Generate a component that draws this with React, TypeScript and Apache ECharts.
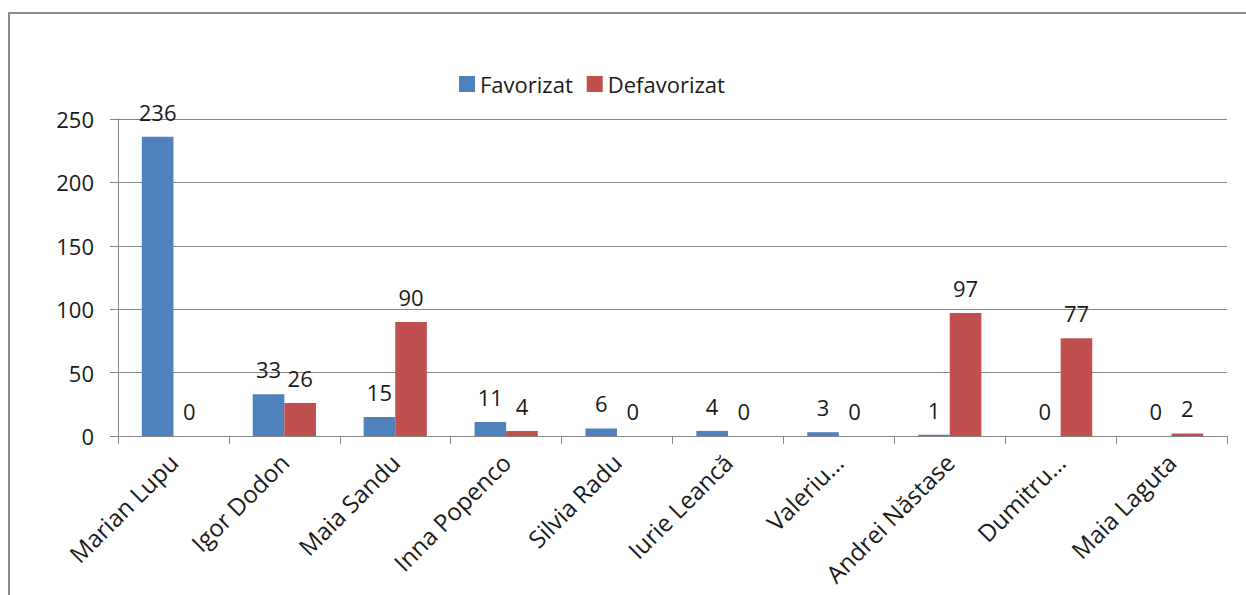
import React, { useEffect, useRef } from "react";
import * as echarts from "echarts";

const categories = [
  "Marian Lupu",
  "Igor Dodon",
  "Maia Sandu",
  "Inna Popenco",
  "Silvia Radu",
  "Iurie Leancă",
  "Valeriu…",
  "Andrei Năstase",
  "Dumitru…",
  "Maia Laguta",
];
const favorizat = [236, 33, 15, 11, 6, 4, 3, 1, 0, 0];
const defavorizat = [0, 26, 90, 4, 0, 0, 0, 97, 77, 2];
const seriesNames = ["Favorizat", "Defavorizat"];

const FONT = "'Open Sans', 'Noto Sans', sans-serif";
const TEXT = "#1a1a1a";
const AXIS = "#868686";

export default function App() {
  const ref = useRef<HTMLDivElement>(null);
  useEffect(() => {
    if (!ref.current) return;
    const chart = echarts.init(ref.current, undefined, { renderer: "svg" });
    const labelCfg = {
      show: true,
      position: "top" as const,
      distance: 14,
      fontSize: 22,
      color: TEXT,
      fontFamily: FONT,
    };
    chart.setOption({
      animation: false,
      backgroundColor: "#ffffff",
      textStyle: { fontFamily: FONT },
      graphic: [
        {
          type: "rect",
          shape: { x: 9, y: 13, width: 1260, height: 620 },
          style: { fill: "none", stroke: "#8a8a8a", lineWidth: 2 },
          silent: true,
        },
      ],
      legend: {
        data: seriesNames,
        left: 454,
        top: 68,
        itemWidth: 16,
        itemHeight: 16,
        itemGap: 14,
        icon: "rect",
        textStyle: { fontSize: 22, color: TEXT, fontFamily: FONT },
      },
      grid: { left: 118, right: 19, top: 119, bottom: 159, containLabel: false },
      xAxis: {
        type: "category",
        data: categories,
        axisLine: { show: true, lineStyle: { color: AXIS, width: 1 } },
        axisTick: { show: true, length: 8, lineStyle: { color: AXIS } },
        axisLabel: {
          rotate: 45,
          interval: 0,
          margin: 22,
          fontSize: 24,
          color: TEXT,
          fontFamily: FONT,
        },
      },
      yAxis: {
        type: "value",
        min: 0,
        max: 250,
        interval: 50,
        axisLine: { show: true, lineStyle: { color: AXIS, width: 1 } },
        axisTick: { show: true, length: 8, lineStyle: { color: AXIS } },
        splitLine: { show: true, lineStyle: { color: AXIS, width: 1 } },
        axisLabel: {
          margin: 24,
          fontSize: 22,
          color: TEXT,
          fontFamily: FONT,
        },
      },
      series: [
        {
          name: seriesNames[0],
          type: "bar",
          data: favorizat,
          barGap: "0%",
          barCategoryGap: "43%",
          itemStyle: { color: "#4f81bd" },
          label: labelCfg,
        },
        {
          name: seriesNames[1],
          type: "bar",
          data: defavorizat,
          barGap: "0%",
          barCategoryGap: "43%",
          itemStyle: { color: "#c0504d" },
          label: labelCfg,
        },
      ],
    });
    return () => chart.dispose();
  }, []);
  return (
    <div
      ref={ref}
      style={{ position: "fixed", left: 0, top: 0, width: 1246, height: 595 }}
    />
  );
}
